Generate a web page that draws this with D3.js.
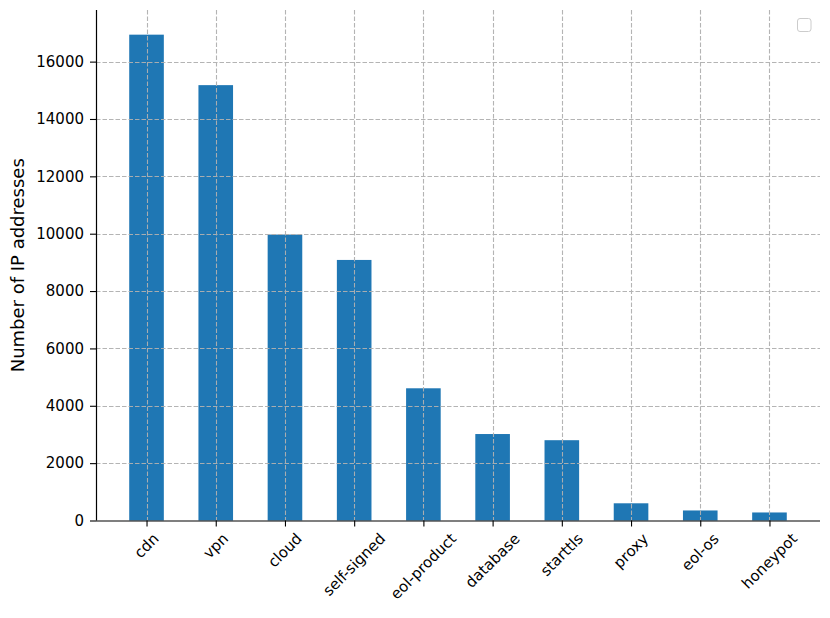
<!DOCTYPE html>
<html>
<head>
<meta charset="utf-8">
<script src="https://cdn.jsdelivr.net/npm/d3@7"></script>
<style>
  body { margin: 0; background: #fff; }
  svg { display: block; font-family: "DejaVu Sans", sans-serif; }
</style>
</head>
<body>
<svg id="chart" width="830" height="618"></svg>
<script>
const categories = ["cdn", "vpn", "cloud", "self-signed", "eol-product", "database", "starttls", "proxy", "eol-os", "honeypot"];
const values = [16940, 15180, 9970, 9085, 4610, 3015, 2800, 600, 350, 280];
const yTicks = [0, 2000, 4000, 6000, 8000, 10000, 12000, 14000, 16000];
const yLabel = "Number of IP addresses";

const W = 830, H = 618;
const m = { left: 96, right: 10, top: 10, bottom: 97.5 };
const svg = d3.select("#chart");
const FS = 15;

const x = d3.scalePoint().domain(categories).range([m.left, W - m.right]).padding(0.73);
const y = d3.scaleLinear().domain([0, 17800]).range([H - m.bottom, m.top]);
const barW = x.step() * 0.5;

// bars
svg.append("g").selectAll("rect").data(categories).join("rect")
  .attr("x", d => x(d) - barW / 2)
  .attr("width", barW)
  .attr("y", (d, i) => y(values[i]))
  .attr("height", (d, i) => y(0) - y(values[i]))
  .attr("fill", "#1f77b4");

// grid
const grid = svg.append("g").attr("stroke", "#b0b0b0").attr("stroke-width", 1.1).attr("stroke-dasharray", "4.5,2").attr("opacity", 0.95);
grid.selectAll("line.h").data(yTicks.slice(1)).join("line")
  .attr("x1", m.left).attr("x2", W - m.right)
  .attr("y1", d => Math.round(y(d)) + 0.5).attr("y2", d => Math.round(y(d)) + 0.5);
grid.selectAll("line.v").data(categories).join("line")
  .attr("x1", d => Math.round(x(d)) + 0.5).attr("x2", d => Math.round(x(d)) + 0.5)
  .attr("y1", m.top).attr("y2", y(0));

// y axis
const yAxis = d3.axisLeft(y).tickValues(yTicks).tickFormat(d3.format("d")).tickSize(6).tickPadding(6);
const gy = svg.append("g").attr("transform", `translate(${m.left},0)`).call(yAxis);
gy.attr("font-size", null).attr("font-family", null);
gy.select(".domain").attr("d", `M0.5,${m.top}V${y(0)}`).attr("stroke", "#000").attr("stroke-width", 1.2);
gy.selectAll(".tick line").attr("stroke", "#000").attr("stroke-width", 1.1);
gy.selectAll(".tick text").style("font-size", FS + "px").style("font-family", "'DejaVu Sans'").attr("fill", "#000");

// x axis
const xAxis = d3.axisBottom(x).tickSize(6).tickFormat(() => "");
const gx = svg.append("g").attr("transform", `translate(0,${y(0)})`).call(xAxis);
gx.select(".domain").attr("d", `M${m.left},0.5H${W - m.right}`).attr("stroke", "#000").attr("stroke-width", 1.2);
gx.selectAll(".tick line").attr("stroke", "#000").attr("stroke-width", 1.1);

// rotated x labels (center aligned, top of rotated bbox under tick)
const labTop = y(0) + 9.5;
const labs = svg.append("g").selectAll("text").data(categories).join("text")
  .style("font-size", FS + "px").attr("fill", "#000").attr("text-anchor", "middle")
  .attr("dominant-baseline", "central")
  .text(d => d);
labs.each(function(d) {
  const w = this.getComputedTextLength();
  const h = FS * 1.15;
  const bh = (w + h) * Math.SQRT1_2;
  const cy = labTop + bh / 2;
  d3.select(this).attr("transform", `translate(${x(d)},${cy}) rotate(-45)`);
});

// y label
svg.append("text")
  .attr("transform", `translate(17.5,${(m.top + y(0)) / 2}) rotate(-90)`)
  .attr("text-anchor", "middle").attr("dominant-baseline", "central")
  .style("font-size", "18px").attr("fill", "#000")
  .text(yLabel);

// empty legend box
svg.append("rect").attr("x", 797.5).attr("y", 18.5).attr("width", 13.5).attr("height", 13)
  .attr("rx", 2.5).attr("fill", "#fff").attr("stroke", "#cccccc").attr("stroke-width", 1);
</script>
</body>
</html>
